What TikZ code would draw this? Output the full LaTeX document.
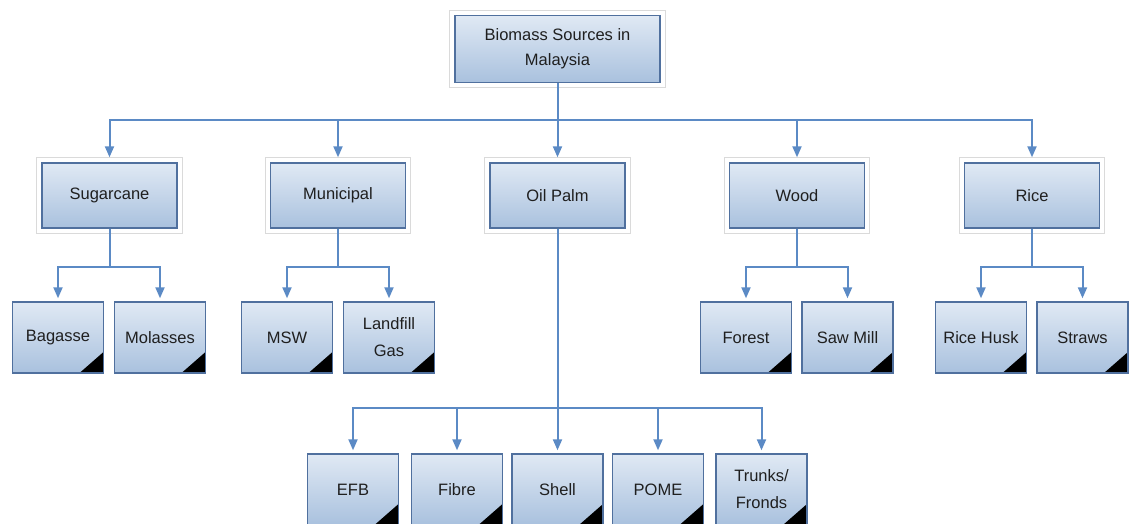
\documentclass[tikz,border=0pt]{standalone}
\usepackage{fontspec}
\setmainfont{Liberation Sans}
\usetikzlibrary{arrows.meta,backgrounds}
\definecolor{boxtop}{HTML}{E0E9F4}
\definecolor{boxbot}{HTML}{A9C1DE}
\definecolor{boxline}{HTML}{50709E}
\definecolor{arrowc}{HTML}{5B8AC5}
\definecolor{halo}{HTML}{DADADA}
\begin{document}
\begin{tikzpicture}[x=1pt,y=-1pt,
  base/.style={draw=boxline, line width=1.4pt, top color=boxtop, bottom color=boxbot,
    inner sep=0pt, align=center, text=black!88},
  catbox/.style={base, minimum width=135pt, minimum height=65pt, font=\fontsize{16.5}{24}\selectfont},
  rootbox/.style={base, minimum width=205pt, minimum height=67pt, font=\fontsize{16.5}{25}\selectfont},
  leafbox/.style={base, minimum width=91pt, minimum height=71pt, font=\fontsize{16.5}{27}\selectfont,
    path picture={\fill[black] (path picture bounding box.south east) -- ++(-24pt,0pt) -- ++(24pt,21pt) -- cycle;}},
  conn/.style={draw=arrowc, line width=2pt, -{Triangle[length=11pt,width=9pt]}},
  halobox/.style={draw=halo, line width=1pt, fill=white}
]
\useasboundingbox (0,0) rectangle (1130,524);
\clip (0,0) rectangle (1130,524);

\node[rootbox] (root) at (557.5,49) {Biomass Sources in\\Malaysia};

\node[catbox] (sug) at (109.5,195.5) {Sugarcane};
\node[catbox] (mun) at (338,195.5) {Municipal};
\node[catbox] (oil) at (557.5,195.5) {Oil Palm};
\node[catbox] (wood) at (797,195.5) {Wood};
\node[catbox] (rice) at (1032,195.5) {Rice};

\node[leafbox] (bag) at (58,337.5) {Bagasse};
\node[leafbox] (mol) at (160,337.5) {Molasses};
\node[leafbox] (msw) at (287,337.5) {MSW};
\node[leafbox] (lfg) at (389,337.5) {Landfill\\Gas};
\node[leafbox] (for) at (746,337.5) {Forest};
\node[leafbox] (saw) at (847.5,337.5) {Saw Mill};
\node[leafbox] (rh) at (981,337.5) {Rice Husk};
\node[leafbox] (str) at (1082.5,337.5) {Straws};

\node[leafbox] (efb) at (353,489.5) {EFB};
\node[leafbox] (fib) at (457,489.5) {Fibre};
\node[leafbox] (she) at (557.5,489.5) {Shell};
\node[leafbox] (pom) at (658,489.5) {POME};
\node[leafbox] (tru) at (761.5,489.5) {Trunks/\\Fronds};

\begin{scope}[on background layer]
  \foreach \n in {root,sug,mun,oil,wood,rice}
    \draw[halobox] ([xshift=-4.5pt,yshift=4.5pt]\n.north west) rectangle ([xshift=4.5pt,yshift=-4.5pt]\n.south east);
\end{scope}

\foreach \c in {sug,mun,oil,wood,rice}
  \draw[conn, shorten >=5pt] (root.south) -- ++(0,36.5) -| (\c.north);

\foreach \p/\c in {sug/bag,sug/mol,mun/msw,mun/lfg,wood/for,wood/saw,rice/rh,rice/str}
  \draw[conn, shorten >=3pt] (\p.south) -- ++(0,38) -| (\c.north);

\foreach \c in {efb,fib,she,pom,tru}
  \draw[conn, shorten >=3pt] (oil.south) -- ++(0,179) -| (\c.north);
\end{tikzpicture}
\end{document}
